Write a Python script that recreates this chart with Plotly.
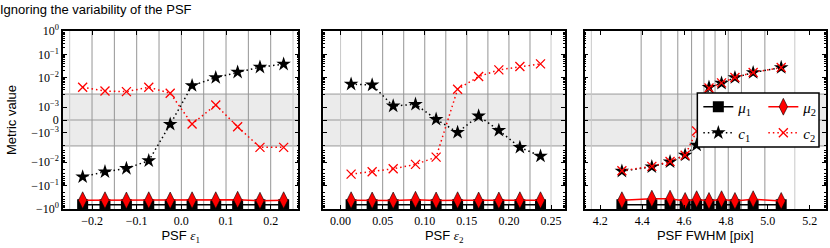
import math
import plotly.graph_objects as go

# ---------------- data ----------------
e1_x = [-0.221, -0.171, -0.123, -0.073, -0.025, 0.024, 0.077, 0.126, 0.176, 0.229]
e1_mu1 = [-0.66, -0.66, -0.65, -0.66, -0.65, -0.66, -0.66, -0.65, -0.66, -0.66]
e1_mu2 = [-0.42, -0.42, -0.43, -0.42, -0.43, -0.42, -0.42, -0.40, -0.44, -0.42]
e1_c1 = [-0.042, -0.0256, -0.0183, -0.0086, -0.00033, 0.0046, 0.0101, 0.0173, 0.0283, 0.038]
e1_c2 = [0.0039, 0.0027, 0.00254, 0.0039, 0.00217, -0.00031, 0.00116, -0.00052, -0.0023, -0.0023]
e1_edges = [-0.25, -0.2, -0.15, -0.1, -0.05, 0.0, 0.05, 0.1, 0.15, 0.2, 0.25]

e2_x = [0.0125, 0.0375, 0.0625, 0.089, 0.1135, 0.139, 0.164, 0.188, 0.213, 0.2375]
e2_mu1 = [-0.66, -0.66, -0.66, -0.65, -0.66, -0.66, -0.66, -0.66, -0.66, -0.66]
e2_mu2 = [-0.42, -0.43, -0.43, -0.40, -0.43, -0.42, -0.43, -0.43, -0.42, -0.42]
e2_c1 = [0.0053, 0.0049, 0.00108, 0.00121, 0.000054, -0.00095, 0.00031, -0.0008, -0.0023, -0.00543]
e2_c2 = [-0.0322, -0.0256, -0.019, -0.0123, -0.006, 0.0032, 0.0112, 0.0217, 0.030, 0.039]
e2_edges = [0.0, 0.025, 0.05, 0.075, 0.1, 0.125, 0.15, 0.175, 0.2, 0.225, 0.25]

fwhm_x = [4.303, 4.446, 4.533, 4.605, 4.660, 4.719, 4.779, 4.843, 4.930, 5.064]
fwhm_mu1 = [-0.66, -0.65, -0.65, -0.66, -0.65, -0.66, -0.65, -0.66, -0.65, -0.66]
fwhm_mu2 = [-0.42, -0.36, -0.36, -0.45, -0.38, -0.45, -0.38, -0.45, -0.38, -0.45]
fwhm_c1 = [-0.024, -0.0156, -0.0095, -0.0049, -0.00193, 0.0039, 0.0058, 0.0101, 0.0166, 0.0272]
fwhm_c2 = [-0.023, -0.0150, -0.0092, -0.0050, -0.00085, 0.0036, 0.0060, 0.0103, 0.0168, 0.0275]
fwhm_edges = [4.157, 4.395, 4.490, 4.570, 4.636, 4.695, 4.748, 4.811, 4.874, 4.986, 5.129]

e1_ticks = [-0.2, -0.1, 0.0, 0.1, 0.2]
e1_ticklabels = ["\u22120.2", "\u22120.1", "0.0", "0.1", "0.2"]
e2_ticks = [0.0, 0.05, 0.10, 0.15, 0.20, 0.25]
e2_ticklabels = ["0.00", "0.05", "0.10", "0.15", "0.20", "0.25"]
fwhm_ticks = [4.2, 4.4, 4.6, 4.8, 5.0, 5.2]
fwhm_ticklabels = ["4.2", "4.4", "4.6", "4.8", "5.0", "5.2"]

y_ticks = [1.0, 0.1, 0.01, 0.001, 0.0, -0.001, -0.01, -0.1, -1.0]
y_ticklabels = ["10<sup>0</sup>", "10<sup>\u22121</sup>", "10<sup>\u22122</sup>", "10<sup>\u22123</sup>", "0",
                "\u221210<sup>\u22123</sup>", "\u221210<sup>\u22122</sup>", "\u221210<sup>\u22121</sup>",
                "\u221210<sup>0</sup>"]

LINTHRESH = 0.002
LINSCALE = 1.0 / (1.0 - 0.1)


def symlog(v):
    a = abs(v)
    s = 1.0 if v >= 0 else -1.0
    if a <= LINTHRESH:
        return s * LINSCALE * a / LINTHRESH
    return s * (LINSCALE + math.log10(a / LINTHRESH))


def tr(vals):
    return [symlog(v) for v in vals]


minor_vals = []
for k in (-3, -2, -1):
    for m in range(2, 10):
        minor_vals += [symlog(m * 10 ** k), symlog(-m * 10 ** k)]

SERIF = "Liberation Serif"
SANS = "Liberation Sans"
DOT = "1.5px,3px"

fig = go.Figure()

panels = [
    (e1_x, e1_mu1, e1_mu2, e1_c1, e1_c2),
    (e2_x, e2_mu1, e2_mu2, e2_c1, e2_c2),
    (fwhm_x, fwhm_mu1, fwhm_mu2, fwhm_c1, fwhm_c2),
]
names = ["<i>\u03bc</i><sub>1</sub>", "<i>\u03bc</i><sub>2</sub>", "<i>c</i><sub>1</sub>", "<i>c</i><sub>2</sub>"]
for i, (xs, mu1, mu2, c1, c2) in enumerate(panels):
    xa = "x" if i == 0 else "x%d" % (i + 1)
    ya = "y" if i == 0 else "y%d" % (i + 1)
    show = (i == 0)
    fig.add_trace(go.Scatter(x=xs, y=tr(mu1), xaxis=xa, yaxis=ya, mode="lines+markers", name=names[0],
                             legendgroup="mu1", showlegend=show, legend="legend",
                             line=dict(color="black", width=1.5),
                             marker=dict(symbol="square", size=11, color="black")))
    fig.add_trace(go.Scatter(x=xs, y=tr(mu2), xaxis=xa, yaxis=ya, mode="lines+markers", name=names[1],
                             legendgroup="mu2", showlegend=show, legend="legend",
                             line=dict(color="red", width=1.5),
                             marker=dict(symbol="diamond-tall", size=12, color="red",
                                         line=dict(color="black", width=0.6))))
    fig.add_trace(go.Scatter(x=xs, y=tr(c1), xaxis=xa, yaxis=ya, mode="lines+markers", name=names[2],
                             legendgroup="c1", showlegend=show, legend="legend2",
                             line=dict(color="black", width=1.5, dash=DOT),
                             marker=dict(symbol="star", size=11, color="black")))
    fig.add_trace(go.Scatter(x=xs, y=tr(c2), xaxis=xa, yaxis=ya, mode="lines+markers", name=names[3],
                             legendgroup="c2", showlegend=show, legend="legend2",
                             line=dict(color="red", width=1.5, dash=DOT),
                             marker=dict(symbol="x-thin", size=9, color="red",
                                         line=dict(color="red", width=1.3))))

W, H = 830, 248
ML, MR, MT, MB = 63, 2, 31, 39
PW = W - ML - MR
PH = H - MT - MB


def dom(a, b):
    return [(a - ML) / PW, (b - ML) / PW]


x_domains = [dom(63, 299), dom(324, 566.5), dom(586, 828)]
x_ranges = [[-0.265, 0.262], [-0.0205, 0.2668], [4.125, 5.278]]
x_ticks = [(e1_ticks, e1_ticklabels), (e2_ticks, e2_ticklabels), (fwhm_ticks, fwhm_ticklabels)]
x_titles = ["PSF <span style='font-family:Liberation Serif'><i>\u03b5</i><sub>1</sub></span>",
            "PSF <span style='font-family:Liberation Serif'><i>\u03b5</i><sub>2</sub></span>",
            "PSF FWHM [pix]"]
edges_all = [e1_edges, e2_edges, fwhm_edges]

yr = [symlog(-1.0), symlog(1.0)]
layout = dict(
    width=W, height=H, margin=dict(l=ML, r=MR, t=MT, b=MB),
    paper_bgcolor="white", plot_bgcolor="white",
    font=dict(family=SERIF, size=12, color="black"),
    title=dict(text="Ignoring the variability of the PSF", x=0.0, xanchor="left", xref="container",
               y=1 - 9 / H, yanchor="middle", yref="container",
               font=dict(family=SANS, size=13, color="black")),
    shapes=[],
)

for i in range(3):
    xk = "xaxis" if i == 0 else "xaxis%d" % (i + 1)
    yk = "yaxis" if i == 0 else "yaxis%d" % (i + 1)
    ya = "y" if i == 0 else "y%d" % (i + 1)
    tv, tt = x_ticks[i]
    layout[xk] = dict(domain=x_domains[i], range=x_ranges[i], anchor=ya,
                      showgrid=False, zeroline=False,
                      showline=True, linecolor="black", linewidth=1.5, mirror="allticks",
                      ticks="inside", ticklen=4, tickwidth=1, tickcolor="black",
                      tickmode="array", tickvals=tv, ticktext=tt,
                      tickfont=dict(family=SERIF, size=12),
                      title=dict(text=x_titles[i], font=dict(family=SANS, size=13), standoff=3))
    layout[yk] = dict(domain=[0, 1], range=yr, anchor="x" if i == 0 else "x%d" % (i + 1),
                      showgrid=False, zeroline=False,
                      showline=True, linecolor="black", linewidth=1.5, mirror="allticks",
                      ticks="inside", ticklen=4, tickwidth=1, tickcolor="black",
                      tickmode="array", tickvals=tr(y_ticks), ticktext=y_ticklabels,
                      showticklabels=(i == 0),
                      tickfont=dict(family=SERIF, size=12),
                      minor=dict(tickmode="array", tickvals=minor_vals, ticks="inside",
                                 ticklen=2, tickwidth=0.8, tickcolor="black"))
    if i == 0:
        layout[yk]["title"] = dict(text="Metric value", font=dict(family=SANS, size=13), standoff=12)

    xr = "x" if i == 0 else "x%d" % (i + 1)
    layout["shapes"].append(dict(type="rect", xref=xr + " domain", yref=ya, x0=0, x1=1,
                                 y0=symlog(-LINTHRESH), y1=symlog(LINTHRESH),
                                 fillcolor="#ebebeb", line=dict(width=0), layer="below"))
    for yv in (-LINTHRESH, 0.0, LINTHRESH):
        layout["shapes"].append(dict(type="line", xref=xr + " domain", yref=ya, x0=0, x1=1,
                                     y0=symlog(yv), y1=symlog(yv),
                                     line=dict(color="#9a9a9a", width=1), layer="below"))
    edges = edges_all[i]
    for j, ev in enumerate(edges):
        outer = (j == 0 or j == len(edges) - 1)
        layout["shapes"].append(dict(type="line", xref=xr, yref=ya + " domain", x0=ev, x1=ev,
                                     y0=0, y1=1,
                                     line=dict(color="#c8c8c8" if outer else "#959595", width=1),
                                     layer="below"))

# legend box
layout["shapes"].append(dict(type="rect", xref="paper", yref="paper",
                             x0=(699 - ML) / PW, x1=(821 - ML) / PW,
                             y0=(H - MB - 147) / PH, y1=(H - MB - 93) / PH,
                             fillcolor="white", line=dict(color="black", width=1.5), layer="above"))

leg_common = dict(orientation="h", xanchor="left", yanchor="middle", bgcolor="rgba(0,0,0,0)",
                  borderwidth=0, font=dict(family=SERIF, size=15, color="black"),
                  entrywidth=20, itemwidth=30, tracegroupgap=0)
layout["legend"] = dict(x=(700 - ML) / PW, y=(H - MB - 107) / PH, **leg_common)
layout["legend2"] = dict(x=(700 - ML) / PW, y=(H - MB - 133) / PH, **leg_common)

fig.update_layout(**layout)
fig.write_html("out.html", config={"displayModeBar": False},
               post_script="document.body.style.margin='0px';document.body.style.padding='0px';")
